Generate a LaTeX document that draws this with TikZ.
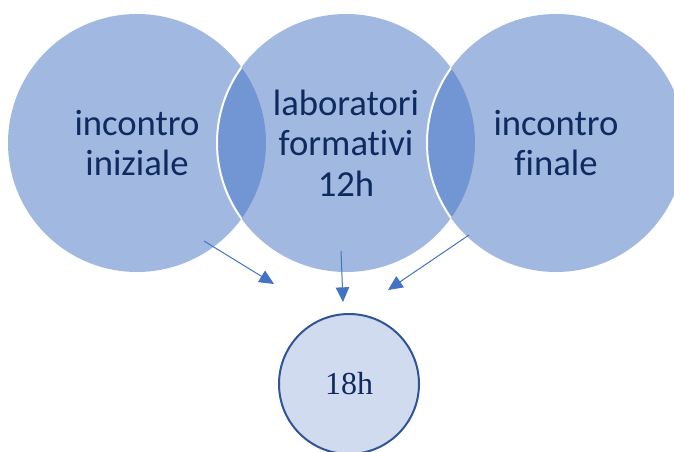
\documentclass[tikz,border=0pt]{standalone}
\usepackage{fontspec}
\usepackage{xcolor}
\usetikzlibrary{arrows.meta}
\newfontfamily\carlito[Ligatures=NoCommon]{Carlito}
\newfontfamily\tnr{Liberation Serif}
\definecolor{vennblue}{HTML}{4472C4}
\definecolor{navytext}{HTML}{0E2A5E}
\definecolor{ringblue}{HTML}{2F5597}
\definecolor{palefill}{HTML}{D0DBEF}

\begin{document}
\begin{tikzpicture}[x=0.75pt,y=0.75pt,yscale=-1,xscale=1,
  venn/.style={circle, inner sep=0pt, minimum size=193.5pt, fill=vennblue, fill opacity=0.5, text opacity=1,
    text=navytext, align=center, font=\carlito\fontsize{27.5}{30.5}\selectfont},
  flow/.style={color=vennblue, line width=0.75pt, -{Triangle[length=11pt,width=10pt]}}]
\useasboundingbox (0,0) rectangle (674,452);
\clip (0,0) rectangle (674,452);

%Shape: Circle [left]
\node [venn] (iniz) at (137,143) {incontro\\iniziale};
%Shape: Circle [middle]
\node [venn] (lab) at (346,143) {laboratori\\formativi\\12h};
%Shape: Circle [right]
\node [venn] (fin) at (556,143) {incontro\\finale};

%white rims inside the overlaps
\begin{scope}
\clip (iniz.center) circle (129);
\draw [white, line width=1.5pt] (lab.center) circle (129);
\end{scope}
\begin{scope}
\clip (lab.center) circle (129);
\draw [white, line width=1.5pt] (fin.center) circle (129);
\end{scope}

%Shape: Circle [total]
\node [circle, inner sep=0pt, minimum size=105pt, draw=ringblue, line width=1.5pt, fill=palefill,
  text=navytext, font=\tnr\fontsize{24}{28}\selectfont] (tot) at (349,384) {18h};

%Straight Lines
\coordinate (a1s) at (204,241); \coordinate (a1e) at (274,284);
\coordinate (a2s) at (341,251); \coordinate (a2e) at (343,302);
\coordinate (a3s) at (469,235); \coordinate (a3e) at (388,290);
\draw [flow] (a1s) -- (a1e);
\draw [flow] (a2s) -- (a2e);
\draw [flow] (a3s) -- (a3e);

\end{tikzpicture}
\end{document}
